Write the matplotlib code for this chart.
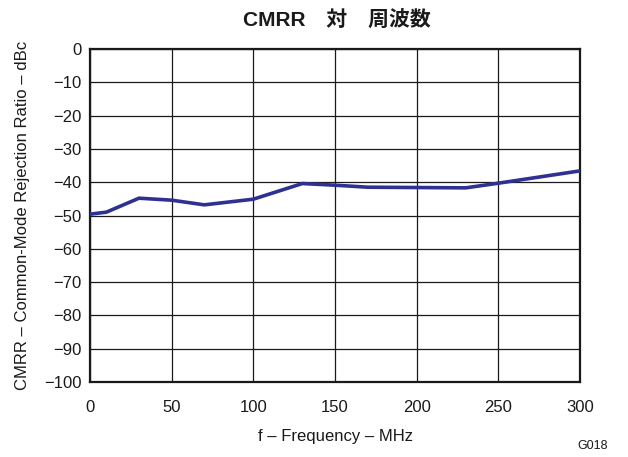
import matplotlib
matplotlib.use("Agg")
import matplotlib.pyplot as plt

plt.rcParams['font.family'] = ['Liberation Sans', 'Noto Sans CJK JP', 'DejaVu Sans']

freq_mhz = [0, 10, 30, 50, 70, 100, 130, 150, 170, 230, 250, 300]
cmrr_dbc = [-49.6, -49.0, -44.8, -45.4, -46.8, -45.1, -40.4, -40.9, -41.5, -41.7, -40.3, -36.6]

x_ticks = [0, 50, 100, 150, 200, 250, 300]
y_ticks = list(range(-100, 1, 10))

fig = plt.figure(figsize=(6.28, 4.57), dpi=100)
ax = fig.add_axes([90 / 628, 1 - 382 / 457, 490 / 628, 333 / 457])

ax.plot(freq_mhz, cmrr_dbc, color='#2E3192', linewidth=2.6, solid_capstyle='butt', zorder=3)

ax.set_xlim(0, 300)
ax.set_ylim(-100, 0)
ax.set_xticks(x_ticks)
ax.set_yticks(y_ticks)
ax.set_yticklabels([str(v).replace('-', '\u2212') for v in y_ticks])
ax.grid(True, color='#1a1a1a', linewidth=0.9)
ax.tick_params(length=0, labelsize=12, pad=6, colors='#1a1a1a')
ax.tick_params(axis='x', pad=13)
for s in ax.spines.values():
    s.set_linewidth(1.6)
    s.set_color('#1a1a1a')

ax.set_xlabel('f \u2013 Frequency \u2013 MHz', fontsize=12, labelpad=10, color='#1a1a1a')
ax.set_ylabel('CMRR \u2013 Common-Mode Rejection Ratio \u2013 dBc', fontsize=12, labelpad=10, color='#1a1a1a')
fig.text(337 / 628, 1 - 21 / 457, 'CMRR\u3000対\u3000周波数', ha='center', va='center',
         fontsize=15, fontweight='bold', family=['Liberation Sans', 'Noto Sans CJK JP'], color='#1a1a1a')
fig.text(593 / 628, 1 - 446 / 457, 'G018', ha='center', va='center', fontsize=9, color='#1a1a1a')

fig.savefig('out.png', dpi=100)
